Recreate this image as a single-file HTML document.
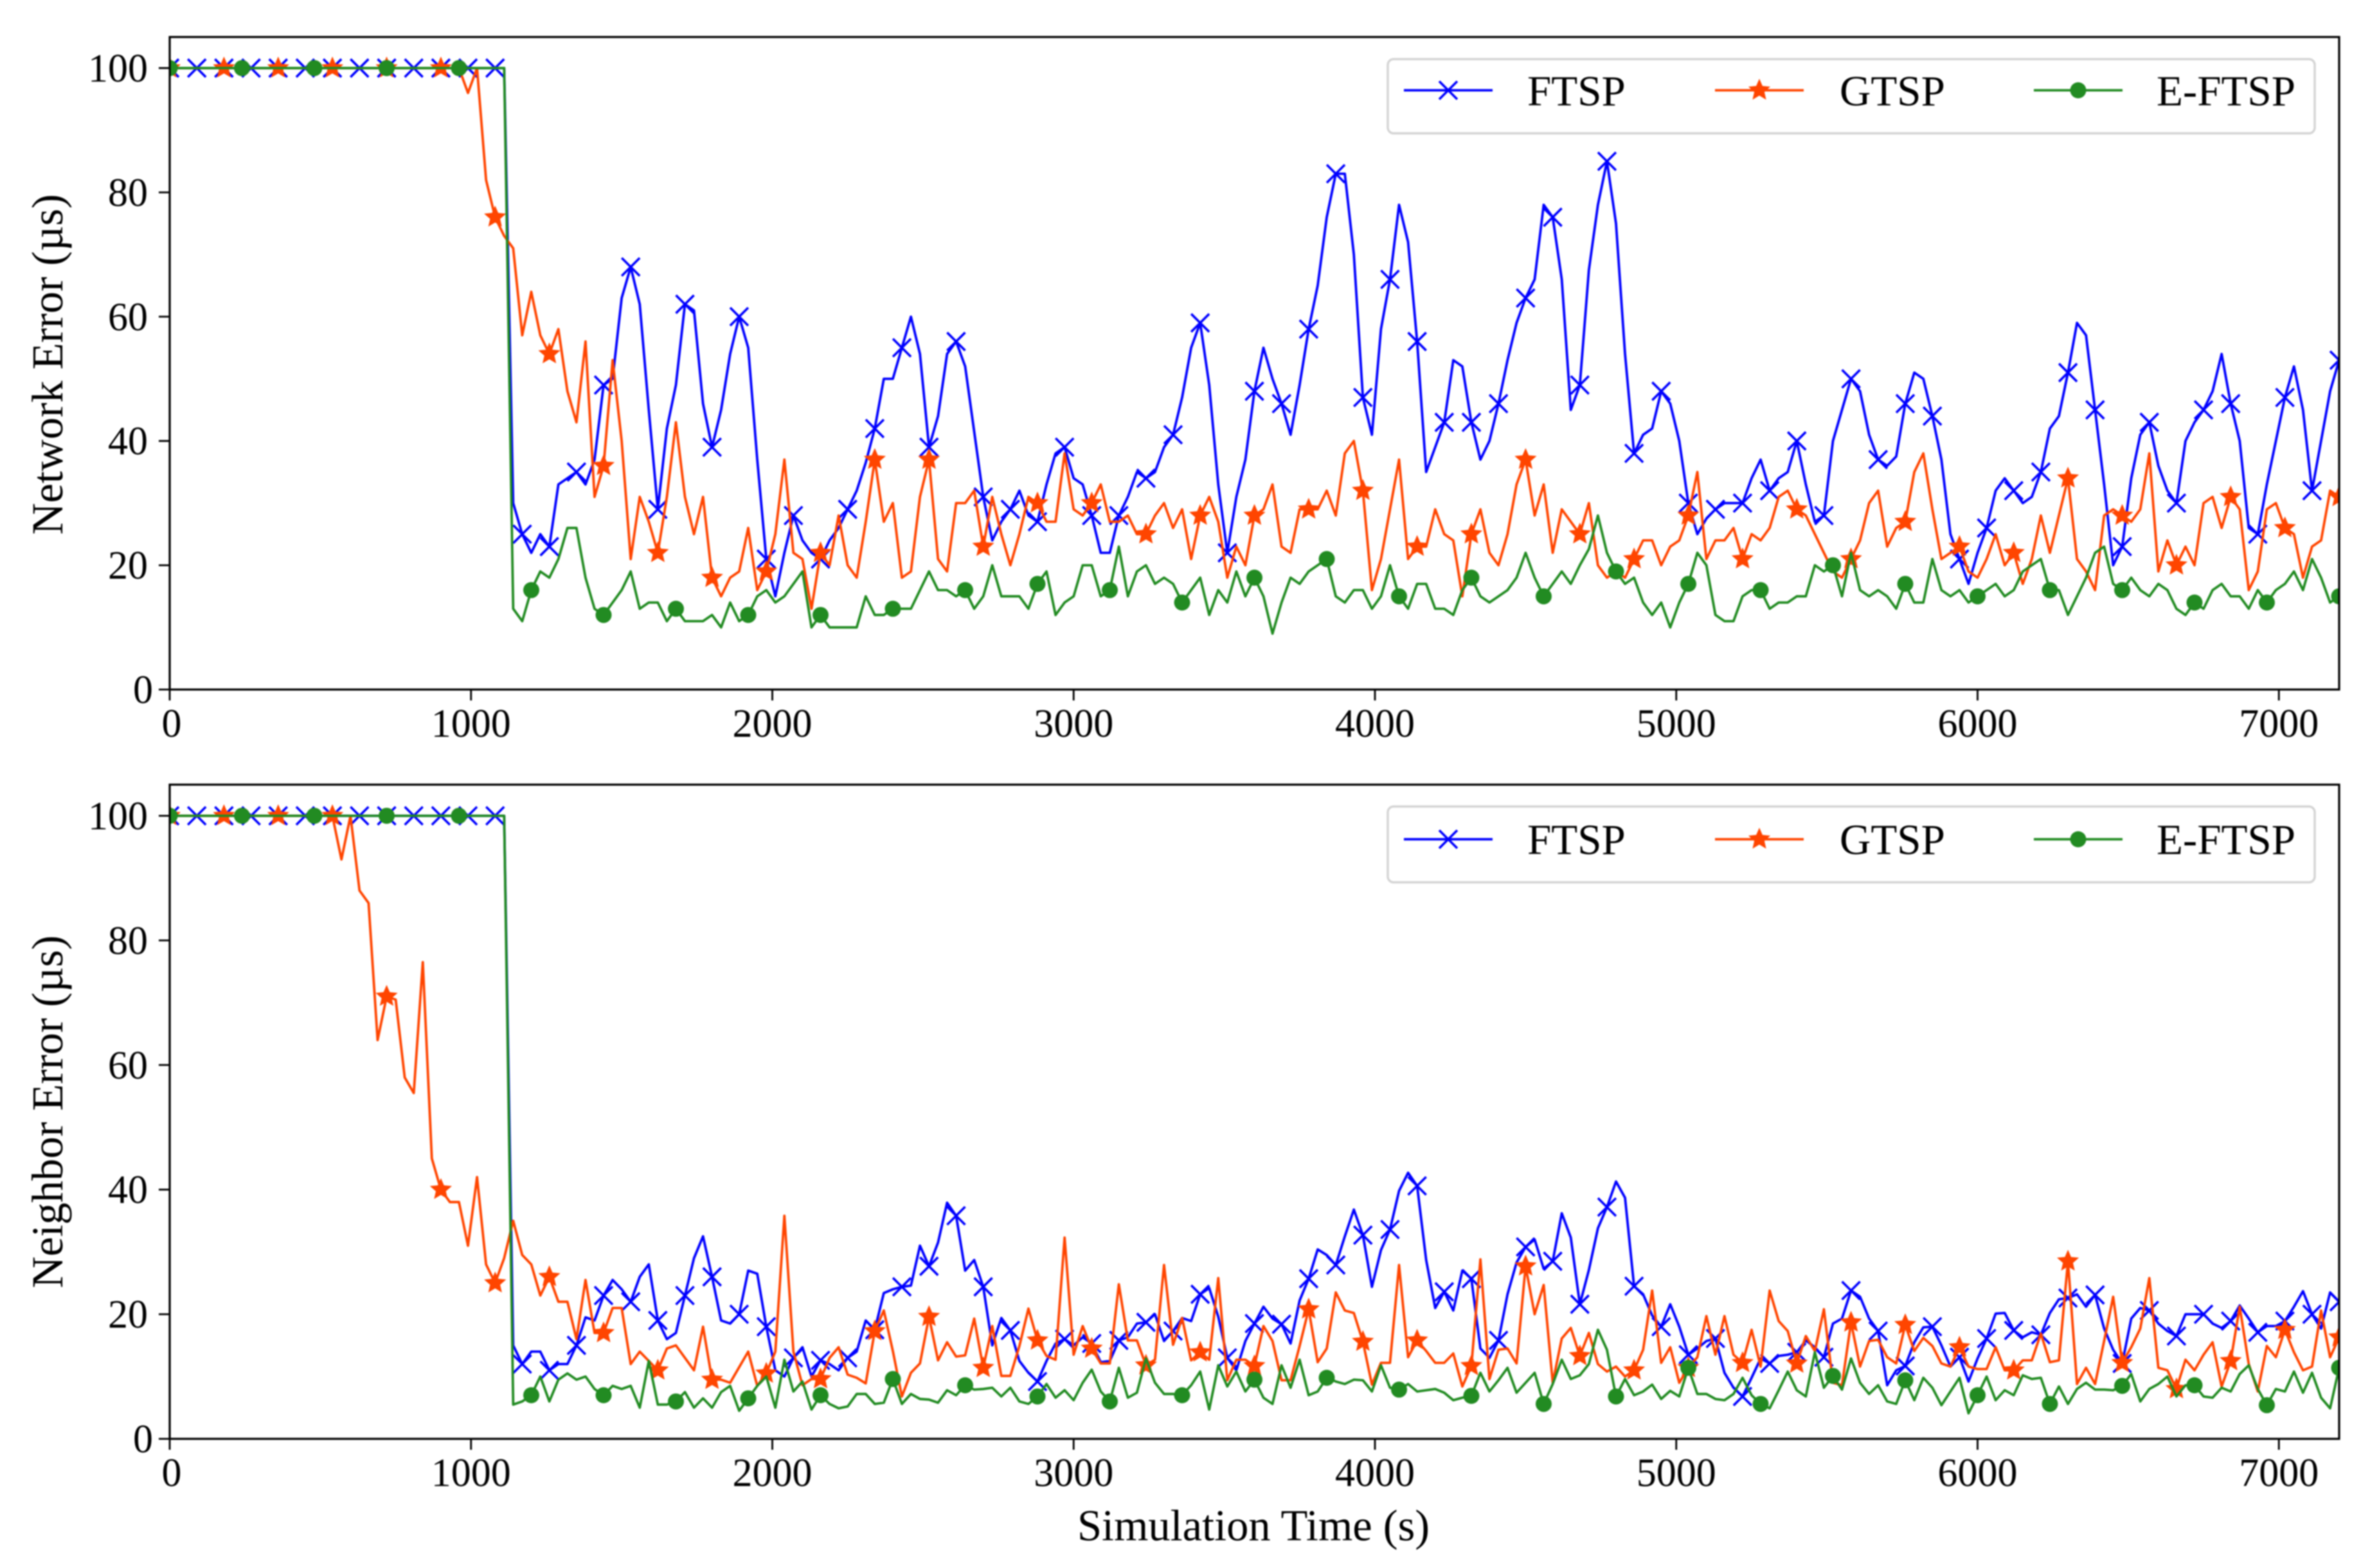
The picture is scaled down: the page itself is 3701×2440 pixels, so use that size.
<!DOCTYPE html>
<html lang="en">
<head>
<meta charset="utf-8">
<title>Network and Neighbor Error over Simulation Time</title>
<style>
  html, body { margin: 0; padding: 0; background: #fff; width: 3701px; height: 2440px; overflow: hidden; }
  svg { display: block; filter: blur(1.1px); }
  text { font-family: "Liberation Serif", "DejaVu Serif", serif; fill: #000; }
</style>
</head>
<body>
<svg id="chart" xmlns="http://www.w3.org/2000/svg" width="3701" height="2440" viewBox="0 0 3701 2440">
  <rect width="3701" height="2440" fill="#ffffff"/>
  <text x="1950" y="2397" font-size="68.5" text-anchor="middle">Simulation Time (s)</text>
  <text transform="translate(97 567) rotate(-90)" font-size="68.5" text-anchor="middle">Network Error (µs)</text>
  <text transform="translate(97 1730) rotate(-90)" font-size="68.5" text-anchor="middle">Neighbor Error (µs)</text>
</svg>
<script>
const xTickValues = [0, 1000, 2000, 3000, 4000, 5000, 6000, 7000];
const yTickValues = [0, 20, 40, 60, 80, 100];
const seriesLabels = ['FTSP', 'GTSP', 'E-FTSP'];
const sampleIntervalSeconds = 30;

const networkFtsp = [
100,100,100,100,100,100,100,100,100,100,100,100,
100,100,100,100,100,100,100,100,100,100,100,100,
100,100,100,100,100,100,100,100,100,100,100,100,
100,100,30,25,22,25,23,33,34,35,33,37,
49,50,63,68,62,45,29,42,49,62,61,46,
39,45,54,60,55,37,21,15,22,28,24,22,
21,24,26,29,32,36.5,42,50,50,55,60,54,
39,44,54,56,52,41.5,31,24,27,29,32,28,
27,33,38,39,34,33,28,22,22,28,31,35,
34,35,39,41,47,55,59,49,33,22,31,37,
48,55,50,46,41,49,58,65,76,83,83,70,
47,41,58,66,78,72,56,35,39,43,53,52,
43,37,40,46,53,59,63,66,78,76,66,45,
49,67.5,78,85,75,54,38,41,42,48,46,40,
30,25,27.5,29,30,30,30,34,37,32,34,35,
40,33,27,28,40,45,50,48,41,37,36,37.5,
46,51,50,44,37,25,21,17,22,26,32,34,
32,30,31,35,42,44,51,59,57,45,33,20,
23,34,41,43,36,32,30,40,43,45,48,54,
46,40,26,25,33,40,47,52,45,32,40,48,
53];

const networkGtsp = [
100,100,100,100,100,100,100,100,100,100,100,100,
100,100,100,100,100,100,100,100,100,100,100,100,
100,100,100,100,100,100,100,100,100,96,100,82,
76,73,71,57,64,57,54,58,48,43,56,31,
36,53,40,21,31,27,22,31,43,31,25,31,
18,15,18,19,26,16,19,25,37,22,21,13,
22,20,28,20,18,27,37,27,30,18,19,31,
37,21,19,30,30,32,23,31,25,20,25,31,
30,27,27,38,29,28,30,33,27,27,28,25,
25,28,30,26,29,21,28,31,27,18,23,20,
28,29,33,23,22,29,29,29,32,28,38,40,
32,16,21,29,37,21,23,23,29,25,24,15,
25,29,22,20,25,33,37,28,33,22,29,27,
25,30,20,18,19,18,21,24,24,20,23,24,
28,35,21,24,24,26,21,25,24,26,31,32,
29,28,25,22,19,18,21,24,30,32,23,26,
27,35,38,29,21,22,23,19,18,21,25,20,
22,17,21,28,22,28,34,21,19,16,28,29,
28,27,29,38,19,24,20,23,20,30,31,26,
31,29,16,19,29,30,26,25,18,23,24,32,
31];

const networkEftsp = [
100,100,100,100,100,100,100,100,100,100,100,100,
100,100,100,100,100,100,100,100,100,100,100,100,
100,100,100,100,100,100,100,100,100,100,100,100,
100,100,13,11,16,19,18,21,26,26,18,13,
12,14,16,19,13,14,14,11,13,11,11,11,
12,10,14,11,12,15,16,14,15,17,19,10,
12,10,10,10,10,15,12,12,13,13,13,16,
19,16,16,15,16,13,15,20,15,15,15,13,
17,19,12,14,15,20,20,15,16,23,15,19,
20,17,18,17,14,16,18,12,16,14,19,15,
18,15,9,14,18,17,19,20,21,15,14,16,
16,13,15,20,15,13,17,17,13,13,12,16,
18,15,14,15,16,18,22,18,15,17,19,17,
20,22.6,28,22,19,17,18,14,12,14,10,14,
17,22,20,12,11,11,15,16,16,13,14,14,
15,15,20,19,20,15,22,16,15,16,15,13,
17,14,14,21,16,15,16,14,15,16,17,15,
16,19,20,21,16,16,12,15,18,22,23,17,
16,18,16,15,17,16,13,12,14,13,16,17,
15,15,13,16,14,16,17,19,16,21,18,14,
15];

const neighborFtsp = [
100,100,100,100,100,100,100,100,100,100,100,100,
100,100,100,100,100,100,100,100,100,100,100,100,
100,100,100,100,100,100,100,100,100,100,100,100,
100,100,15,12,14,14,11,12,12,15,19.5,19,
23,25.5,24,22,26,28,19,16,17,23,29,32.5,
26,19,18.5,20,27,26.5,18,11,10,13,14.7,10,
12.6,12,11,13,14,19,17.5,23.4,24,24.4,24.6,31,
27.7,31.5,37.9,35.8,27,28.7,24.4,15,19.4,17.4,12.5,10.6,
9.2,12.5,15.3,16,15,16.3,15.3,12.3,12.5,15.8,16.3,18.5,
18.7,20,15.7,17.3,19.4,18.9,23.2,24.2,19.6,13,11,15.7,
18.5,21.2,19.3,18.4,15.3,22.2,25.7,30.4,29.5,27.9,32.5,36.8,
32.7,24.4,30.3,33.6,39.8,42.7,40.6,28.7,21,23.6,20.6,27,
25.7,14.5,13,15.8,23.2,28.3,30.8,32,27.3,28.5,36.2,32.3,
21.6,27.1,33.8,37.2,41.3,38.7,24.5,23.2,19.8,18,21.6,18,
13.5,14.5,15.7,16.1,10.6,8.2,6.8,9.8,12.9,12.1,13.3,13.5,
13.9,15.8,14.7,13.1,18.5,19.3,23.8,22.8,19.3,17.3,8.6,11,
11.7,15.5,17.9,18,15,11.6,13.1,9.2,12.9,16.1,20.1,20.2,
17.4,16.3,17.1,16.7,20.2,22.4,22.6,23.2,21.2,23.1,17.7,14.3,
12.1,19.3,21,20.6,18.5,17.3,16.5,20,20,20,18.5,17.8,
18.9,21.4,19.3,17.1,18.1,18.1,18.9,21.2,23.7,20,17.7,23.5,
22];

const neighborGtsp = [
100,100,100,100,100,100,100,100,100,100,100,100,
100,100,100,100,100,100,100,93,100,88,86,64,
71,70.5,58,55.5,76.5,45,40,38,38,31,42,28,
25,29,35,29.5,28,23,26,22,22,16,25.5,17,
17,21,21,12,14,12.5,11,14.5,15,13,11,18,
9.5,9.5,9,11.5,14,8.5,10.5,14,35.8,14,8.6,9.6,
9.6,13,14.7,10.3,9.8,8.9,17.3,20.6,14.1,6.8,10.6,12.1,
19.6,12.6,15.5,13.2,13.4,19.3,11.4,18.1,10.1,10.1,14.9,20.9,
15.8,13.3,12.7,32.3,13.5,18.1,14.5,12.1,12.1,24.8,15.8,15.8,
11.8,12.7,27.9,15.1,19.4,12.6,13.9,12.7,25.8,9.4,12.7,12.7,
11.7,18.1,15.7,9.4,9.4,14.9,20.8,12.3,14.5,23.5,20.6,20.2,
15.6,8.7,12.2,12.2,27.9,13.1,15.8,14.1,12.2,12.2,13.7,8.4,
11.7,28.8,9.6,14.3,14.5,12.1,27.7,20,24.7,9,16.1,17.8,
13.3,17,12,10.8,11.6,10,11,14.3,23.8,12.2,14.7,9,
11.4,13.1,19.7,13.5,19.7,13.5,12.2,17.5,11.6,23.8,18.9,17.3,
12.1,16.5,14.1,20.8,9,8.6,18.7,11.6,15.7,15.9,13.1,12.1,
18.3,14.1,16.2,14.9,12.1,11.6,14.7,11.6,11.2,11.2,14.7,11,
11,12.6,12.6,16.9,12.3,12.6,28.5,8.8,11.4,8.8,15.7,22.8,
12.2,14.7,17.7,25.8,11.4,11,8,12.7,11,13.5,15.5,8.4,
12.5,21.2,12,7.6,14.9,13.1,17.5,13.9,11,11.6,20.6,13.1,
16.3];

const neighborEftsp = [
100,100,100,100,100,100,100,100,100,100,100,100,
100,100,100,100,100,100,100,100,100,100,100,100,
100,100,100,100,100,100,100,100,100,100,100,100,
100,100,5.5,6,7,10,6,9.5,10.5,9.5,10,8,
7,8.5,8,8.5,5,12.5,5.5,5.5,6,7.5,5,6.5,
5,7.5,8.5,4.5,6.5,8.5,10,5,12.7,7.6,9.2,4.7,
7,5.6,4.9,5.2,7.2,7.2,5.6,5.8,9.6,5.6,7.2,6.4,
6.3,5.8,7.8,7,8.6,7.9,8,8.2,6.8,8.2,6,5.6,
6.8,8.8,6.6,7.8,6.2,9,11.1,7.6,6,11.4,6.6,7.4,
12.9,9,7.2,7.2,7,8.6,10.8,4.7,11.8,8.4,10.8,7.6,
9.5,6.6,5.6,11.8,8.2,12.7,7,7.6,9.8,9.2,8.8,9.5,
9.4,7.6,11.8,8.2,7.9,8.8,7.6,7.8,8,7.4,6.2,6.6,
6.9,10.6,7.6,9.4,11.4,7.4,9,10.6,5.6,8.8,12.7,9.6,
10.2,12,17.5,14.3,6.8,9.6,7,7.6,8.7,6.4,7.7,6.8,
11.4,7.2,7.2,6.4,6.2,7.2,9.8,7,5.6,4.9,7.8,10.8,
7.8,6.8,13.9,8.2,10.1,7.9,12.9,9,7.2,8.6,6,5.6,
9.4,6.2,9.8,8.2,5.4,7.6,9.8,4.1,7,10,6.2,7.8,
7,10.2,9.6,9.8,5.6,8.4,5.6,8,9,7.9,7.9,7.8,
8.5,10.4,6,8,8.8,10,6.8,8.6,8.6,6.8,6.6,8.2,
7.6,10.4,11.8,8,5.4,8,7.6,10.8,7.4,10.6,6.6,4.9,
11.4];

const NS = 'http://www.w3.org/2000/svg';
const svg = document.getElementById('chart');
const xMax = 7200, yMax = 105;
const plotLeft = 264, plotRight = 3639;
const colors = ['#0000ff', '#ff4500', '#228b22'];
const markerEvery = [3, 6, 8];
const markerKinds = ['x', 'star', 'dot'];

function make(tag, attrs, parent, text) {
  const node = document.createElementNS(NS, tag);
  for (const key in attrs) node.setAttribute(key, attrs[key]);
  if (text !== undefined) node.textContent = text;
  parent.appendChild(node);
  return node;
}

function xScale(v) { return plotLeft + (v / xMax) * (plotRight - plotLeft); }
function yScaleFor(top, bottom) { return function (v) { return bottom - (v / yMax) * (bottom - top); }; }

function starPoints(cx, cy, r) {
  const pts = [];
  for (let k = 0; k < 10; k++) {
    const rad = k % 2 === 0 ? r : r * 0.46;
    const a = -Math.PI / 2 + k * Math.PI / 5;
    pts.push((cx + rad * Math.cos(a)).toFixed(1) + ',' + (cy + rad * Math.sin(a)).toFixed(1));
  }
  return pts.join(' ');
}

function drawMarker(kind, cx, cy, color, parent) {
  if (kind === 'x') {
    const r = 14;
    const d = 'M' + (cx - r) + ' ' + (cy - r) + 'L' + (cx + r) + ' ' + (cy + r) + 'M' + (cx - r) + ' ' + (cy + r) + 'L' + (cx + r) + ' ' + (cy - r);
    const m = make('path', { d: d, stroke: color, 'stroke-width': 3.6, fill: 'none' }, parent);
    
    
  } else if (kind === 'star') {
    const m = make('polygon', { points: starPoints(cx, cy, 18), fill: color }, parent);
    
    
  } else {
    const m = make('circle', { cx: cx, cy: cy, r: 12.5, fill: color }, parent);
    
    
  }
}

function drawPanel(name, top, bottom, seriesList, legendTop, legendHeight, legendLineDy, legendTextDy) {
  const yScale = yScaleFor(top, bottom);
  const panel = make('g', {}, svg);
  
  

  const clipId = name + '-clip';
  const defs = make('defs', {}, panel);
  const clip = make('clipPath', { id: clipId }, defs);
  make('rect', { x: plotLeft, y: top, width: plotRight - plotLeft, height: bottom - top }, clip);

  seriesList.forEach(function (values, s) {
    const group = make('g', { 'clip-path': 'url(#' + clipId + ')' }, panel);
    
    
    const pts = values.map(function (v, i) {
      return xScale(i * sampleIntervalSeconds).toFixed(2) + ',' + yScale(v).toFixed(2);
    }).join(' ');
    const line = make('polyline', { points: pts, fill: 'none', stroke: colors[s], 'stroke-width': 3.8, 'stroke-linejoin': 'round' }, group);
    
    
    values.forEach(function (v, i) {
      if (i % markerEvery[s] === 0) {
        drawMarker(markerKinds[s], xScale(i * sampleIntervalSeconds), yScale(v), colors[s], group);
      }
    });
  });

  const frame = make('rect', { x: plotLeft, y: top, width: plotRight - plotLeft, height: bottom - top, fill: 'none', stroke: '#000', 'stroke-width': 3.2 }, panel);
  
  

  xTickValues.forEach(function (v) {
    const x = xScale(v);
    const tick = make('line', { x1: x, x2: x, y1: bottom, y2: bottom + 17, stroke: '#000', 'stroke-width': 2.8 }, panel);
    
    
    const label = make('text', { x: x + (v === 0 ? 3 : 0), y: bottom + 73.5, 'font-size': 62, 'text-anchor': 'middle' }, panel, String(v));
    
    
  });

  yTickValues.forEach(function (v) {
    const y = yScale(v);
    const tick = make('line', { x1: plotLeft - 17, x2: plotLeft, y1: y, y2: y, stroke: '#000', 'stroke-width': 2.8 }, panel);
    
    
    const label = make('text', { x: v === 0 ? 238 : 230, y: y + 21, 'font-size': 62, 'text-anchor': 'end' }, panel, String(v));
    
    
  });

  const legend = make('g', {}, panel);
  
  
  const box = make('rect', { x: 2159, y: legendTop, width: 1442, height: legendHeight, rx: 9, ry: 9, fill: '#fff', 'fill-opacity': 0.8, stroke: '#d4d4d4', 'stroke-width': 3.4 }, legend);
  
  
  const lineStarts = [2184, 2668, 3164];
  const textStarts = [2376, 2862, 3355];
  seriesLabels.forEach(function (label, s) {
    const cy = legendTop + legendLineDy;
    const handle = make('line', { x1: lineStarts[s], x2: lineStarts[s] + 138, y1: cy, y2: cy, stroke: colors[s], 'stroke-width': 3.8 }, legend);
    
    
    drawMarker(markerKinds[s], lineStarts[s] + 69, cy, colors[s], legend);
    const t = make('text', { x: textStarts[s], y: legendTop + legendTextDy, 'font-size': 67 }, legend, label);
    
    
  });
}

drawPanel('network-error', 57.6, 1073, [networkFtsp, networkGtsp, networkEftsp], 92, 115.5, 48.5, 72);
drawPanel('neighbor-error', 1221, 2239, [neighborFtsp, neighborGtsp, neighborEftsp], 1255, 118, 51, 74);
</script>
</body>
</html>
